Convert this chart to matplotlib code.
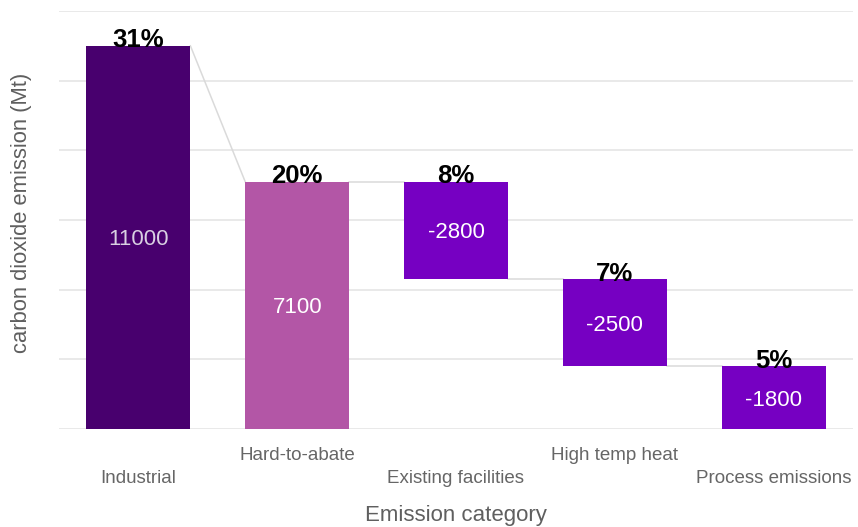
import matplotlib
matplotlib.use("Agg")
import matplotlib.pyplot as plt

plt.rcParams['font.family'] = ['Liberation Sans', 'DejaVu Sans']

categories = ["Industrial", "Hard-to-abate", "Existing facilities", "High temp heat", "Process emissions"]
values = [11000, 7100, -2800, -2500, -1800]
shares = ["31%", "20%", "8%", "7%", "5%"]
# first two bars are totals drawn from zero, the rest step down from the running total
is_total = [True, True, False, False, False]
colors = ["#48006e", "#b356a6", "#7600c2", "#7600c2", "#7600c2"]
value_text_colors = ["#d9d0e2", "#ffffff", "#ffffff", "#ffffff", "#ffffff"]

fig = plt.figure(figsize=(8.58, 5.27), dpi=100)
W, H = 858, 527
ax = fig.add_axes([59 / W, (H - 429) / H, (853 - 59) / W, (429 - 11) / H])

width = 0.655
bottoms, tops = [], []
running = 0
for v, tot in zip(values, is_total):
    if tot:
        b, t = 0, v
        running = v
    else:
        t = running
        b = running + v
        running = b
    bottoms.append(b)
    tops.append(t)

px = 12000 / (429 - 11)  # data units per pixel
for i, (b, t) in enumerate(zip(bottoms, tops)):
    ax.bar(i, t - b, bottom=b, width=width, color=colors[i], zorder=3)
    ax.text(i, (b + t) / 2 - 2.5 * px, str(values[i]), ha="center", va="center",
            color=value_text_colors[i], fontsize=16, zorder=4)
    ax.text(i, t - 1.5 * px, shares[i], ha="center", va="baseline",
            color="black", fontsize=18.5, fontweight="bold", zorder=5)

# connector lines between consecutive bars
conn_color = "#dadada"
for i in range(len(values) - 1):
    x0 = i + width / 2
    x1 = i + 1 - width / 2
    if is_total[i]:
        y0 = tops[i]
    else:
        y0 = bottoms[i]
    y1 = tops[i + 1]
    ax.plot([x0, x1], [y0, y1], color=conn_color, lw=1.1, zorder=2)

ax.set_xlim(-0.5, 4.5)
ax.set_ylim(0, 12000)
ax.set_yticks(range(0, 12001, 2000))
ax.yaxis.grid(True, color="#e3e3e3", lw=1.1, zorder=0)
ax.tick_params(left=False, bottom=False, labelleft=False, labelbottom=False)
for s in ax.spines.values():
    s.set_visible(False)

# staggered category labels
axh = 429 - 11
for i, c in enumerate(categories):
    off = 18 if i % 2 == 1 else 41
    ax.text(i, -off / axh, c, transform=ax.get_xaxis_transform(),
            ha="center", va="top", fontsize=13.5, color="#666666")

fig.text(456 / W, 1 - 515 / H, "Emission category", ha="center", va="center",
         fontsize=16, color="#5f5f5f")
fig.text(22 / W, 1 - 213 / H, "carbon dioxide emission (Mt)", ha="center", va="center",
         rotation=90, fontsize=15.8, color="#5f5f5f")

fig.savefig("out.png", dpi=100)
